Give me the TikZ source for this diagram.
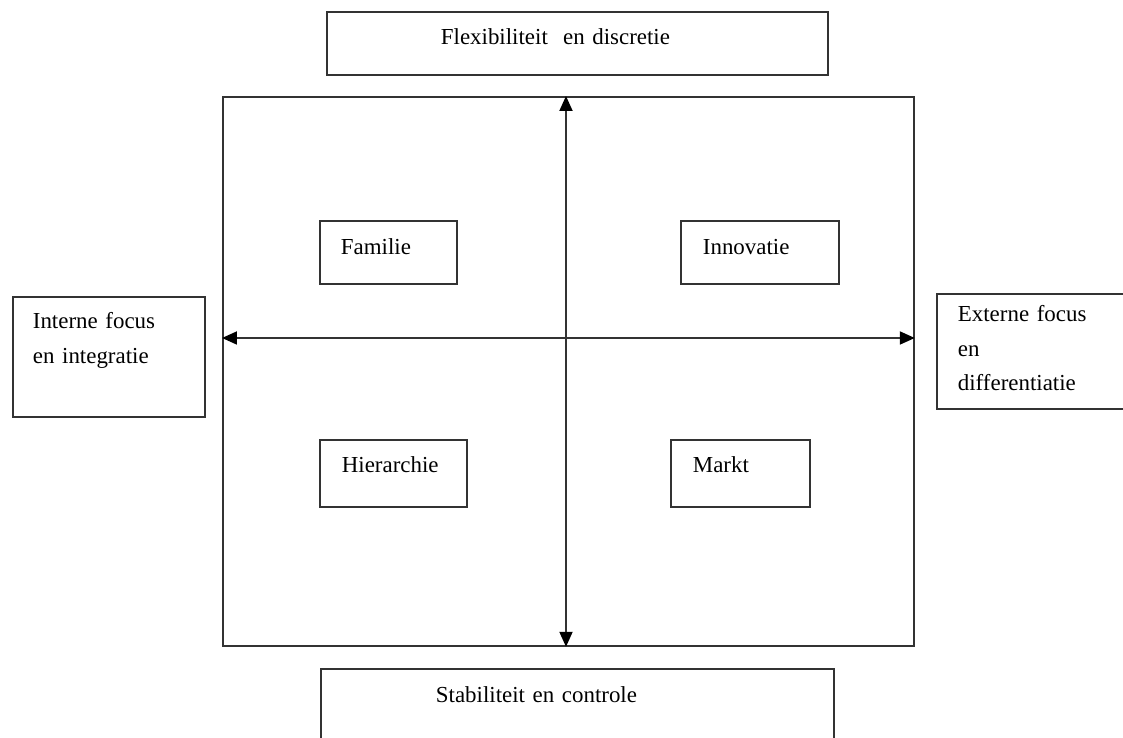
\documentclass[tikz,border=0pt]{standalone}
\usepackage{fontspec}
\setmainfont{Liberation Serif}
\usetikzlibrary{arrows.meta}

\begin{document}
\begin{tikzpicture}[
  font=\fontsize{16.3}{24.5}\selectfont,
  box/.style={draw=black!80, line width=1.3pt, anchor=north west, align=left, inner ysep=0pt},
  frame/.style={draw=black!80, line width=1.3pt, anchor=north west, inner sep=0pt},
  axis/.style={draw=black!80, line width=1.3pt,
               {Triangle[length=0.375cm,width=0.325cm,color=black]}-{Triangle[length=0.375cm,width=0.325cm,color=black]}}
]
\useasboundingbox (-14.15,8.45) rectangle (13.925,-10);
\clip (-14.15,8.45) rectangle (13.925,-10);
\coordinate (o) at (0,0);
\node[frame, minimum width=17.275cm, minimum height=13.725cm] (frame) at (-8.6,6.05) {};
\draw[axis] (frame.north -| o) -- (frame.south -| o);
\draw[axis] (frame.west |- o) -- (frame.east |- o);
\node[box, inner xsep=2.85cm, text width=6.825cm, text height=0.825cm, text depth=0.75cm] (flex) at (-6.0,8.175) {Flexibiliteit~ en discretie};
\node[box, inner xsep=2.875cm, text width=7.075cm, text height=0.85cm, text depth=1.5cm] (stab) at (-6.15,-8.25) {Stabiliteit en controle};
\node[box, inner xsep=0.5cm, text width=3.8cm, text height=0.8cm, text depth=2.2cm] (intern) at (-13.85,1.05) {Interne focus\\en integratie};
\node[box, inner xsep=0.525cm, text width=4.15cm, text height=0.7cm, text depth=2.175cm] (extern) at (9.25,1.125) {Externe focus\\en\\differentiatie};
\node[box, inner xsep=0.525cm, text width=2.375cm, text height=0.85cm, text depth=0.725cm] (familie) at (-6.175,2.95) {Familie};
\node[box, inner xsep=0.55cm, text width=2.85cm, text height=0.85cm, text depth=0.725cm] (innovatie) at (2.85,2.95) {Innovatie};
\node[box, inner xsep=0.55cm, text width=2.575cm, text height=0.825cm, text depth=0.85cm] (hierarchie) at (-6.175,-2.525) {Hierarchie};
\node[box, inner xsep=0.55cm, text width=2.375cm, text height=0.825cm, text depth=0.85cm] (markt) at (2.6,-2.525) {Markt};
\end{tikzpicture}
\end{document}
